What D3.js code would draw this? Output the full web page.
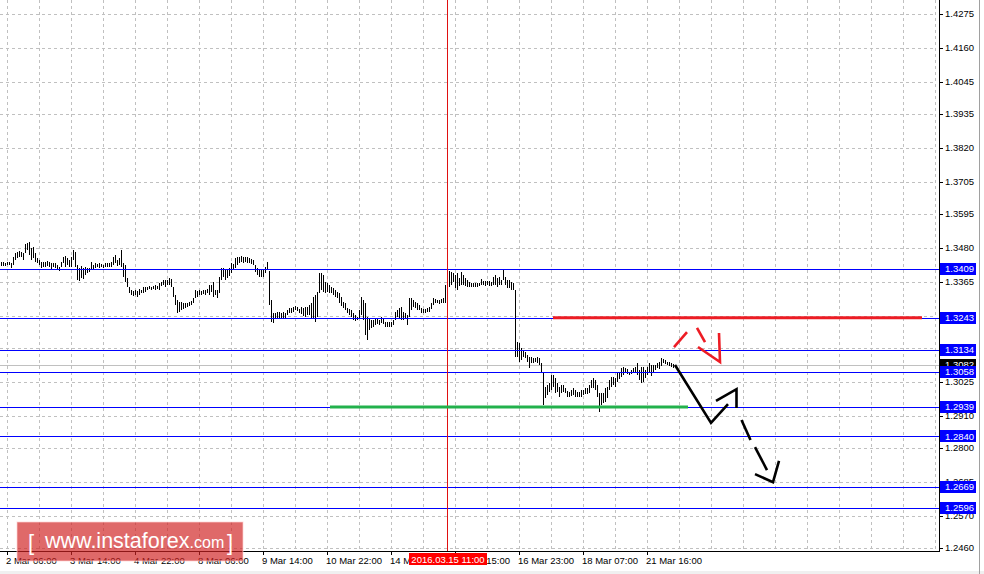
<!DOCTYPE html>
<html><head><meta charset="utf-8">
<script src="https://cdn.jsdelivr.net/npm/d3@7/dist/d3.min.js"></script>
<style>
html,body{margin:0;padding:0;background:#fff;overflow:hidden;}
svg{display:block;}
text{font-family:"Liberation Sans",Arial,sans-serif;}
</style></head><body>
<svg id="c" width="984" height="574"></svg>
<script>
// ---- DATA (H1 bars) ----
const highs = [
1.3431,1.3432,1.3430,1.3433,1.3431,1.3428,1.3450,1.3462,1.3465,1.3470,
1.3467,1.3462,1.3492,1.3496,1.3499,1.3479,1.3484,1.3462,1.3445,1.3439,
1.3433,1.3433,1.3433,1.3436,1.3431,1.3428,1.3428,1.3428,1.3422,1.3416,
1.3433,1.3450,1.3453,1.3445,1.3439,1.3448,1.3473,1.3467,1.3422,1.3411,
1.3419,1.3411,1.3416,1.3411,1.3411,1.3433,1.3422,1.3428,1.3425,1.3428,
1.3425,1.3422,1.3428,1.3428,1.3428,1.3433,1.3450,1.3456,1.3439,1.3445,
1.3473,1.3428,1.3422,1.3377,1.3348,1.3337,1.3335,1.3337,1.3335,1.3339,
1.3337,1.3348,1.3346,1.3348,1.3351,1.3348,1.3351,1.3354,1.3351,1.3360,
1.3365,1.3371,1.3371,1.3371,1.3377,1.3373,1.3348,1.3320,1.3303,1.3297,
1.3297,1.3294,1.3292,1.3294,1.3297,1.3301,1.3309,1.3337,1.3335,1.3337,
1.3335,1.3337,1.3337,1.3339,1.3354,1.3354,1.3365,1.3337,1.3337,1.3382,
1.3411,1.3411,1.3407,1.3407,1.3411,1.3428,1.3424,
1.3445,1.3448,1.3450,1.3453,1.3450,1.3448,1.3448,1.3445,1.3441,1.3439,
1.3422,1.3411,1.3405,1.3405,1.3405,1.3416,1.3433,1.3403,1.3303,1.3258,
1.3260,1.3263,1.3263,1.3260,1.3263,1.3258,1.3269,1.3275,1.3275,1.3280,
1.3283,1.3280,1.3271,1.3278,1.3275,1.3280,1.3280,1.3286,1.3292,1.3314,
1.3320,1.3331,1.3394,1.3396,1.3388,1.3365,1.3360,1.3354,1.3348,1.3343,
1.3337,1.3331,1.3326,1.3314,1.3297,1.3292,1.3275,1.3271,1.3269,1.3258,
1.3252,1.3246,1.3269,1.3314,1.3303,1.3292,1.3246,1.3241,1.3235,1.3235,
1.3241,1.3237,1.3235,1.3244,1.3241,1.3229,1.3229,1.3229,1.3229,1.3235,
1.3263,1.3269,1.3275,1.3280,1.3263,1.3258,1.3252,1.3309,1.3309,1.3303,
1.3297,1.3292,1.3286,1.3275,1.3271,1.3271,1.3275,1.3278,1.3292,1.3309,
1.3305,1.3303,1.3303,1.3305,1.3309,1.3354,1.3388,1.3403,1.3399,1.3394,
1.3388,1.3394,1.3377,1.3399,1.3388,
1.3377,1.3371,1.3365,1.3362,1.3360,1.3360,1.3360,1.3362,1.3373,1.3369,
1.3369,1.3369,1.3369,1.3365,1.3382,1.3388,1.3377,1.3382,1.3371,1.3405,
1.3382,1.3371,1.3371,1.3365,1.3360,1.3337,1.3161,1.3156,1.3139,1.3133,
1.3127,1.3116,1.3110,1.3110,1.3107,1.3107,1.3108,1.3105,1.3088,1.3059,
1.3008,1.3014,1.3020,1.3048,1.3048,1.3037,1.3020,1.3008,1.3014,1.3014,
1.3003,1.2995,1.2991,1.2997,1.3003,1.2997,1.2991,1.2991,1.2997,1.2997,
1.3003,1.3003,1.3014,1.3031,1.3037,1.3031,1.3014,1.2986,1.2986,1.2986,
1.3003,1.3008,1.3031,1.3042,1.3042,1.3037,1.3054,1.3059,1.3071,1.3074,
1.3071,1.3067,1.3059,1.3065,1.3071,1.3074,1.3088,1.3065,1.3076,1.3076,
1.3065,1.3076,1.3088,1.3082,1.3082,1.3082,1.3088,1.3093,1.3105,1.3101,
1.3099,1.3093,1.3093,1.3088,1.3085
];
const lows = [
1.3419,1.3420,1.3419,1.3422,1.3422,1.3411,1.3422,1.3439,1.3445,1.3450,
1.3448,1.3439,1.3462,1.3473,1.3456,1.3439,1.3445,1.3433,1.3428,1.3422,
1.3411,1.3416,1.3416,1.3419,1.3414,1.3407,1.3414,1.3411,1.3408,1.3403,
1.3414,1.3428,1.3416,1.3422,1.3416,1.3416,1.3439,1.3416,1.3371,1.3369,
1.3377,1.3373,1.3388,1.3396,1.3399,1.3405,1.3408,1.3411,1.3414,1.3411,
1.3414,1.3411,1.3414,1.3416,1.3414,1.3416,1.3422,1.3428,1.3419,1.3422,
1.3416,1.3382,1.3365,1.3348,1.3326,1.3320,1.3317,1.3320,1.3314,1.3320,
1.3326,1.3328,1.3331,1.3337,1.3339,1.3337,1.3339,1.3337,1.3339,1.3337,
1.3351,1.3354,1.3348,1.3354,1.3354,1.3346,1.3314,1.3286,1.3260,1.3263,
1.3269,1.3271,1.3275,1.3280,1.3283,1.3286,1.3294,1.3309,1.3314,1.3320,
1.3320,1.3323,1.3320,1.3326,1.3320,1.3331,1.3314,1.3320,1.3309,1.3326,
1.3371,1.3382,1.3371,1.3377,1.3385,1.3394,1.3407,
1.3411,1.3422,1.3428,1.3433,1.3430,1.3433,1.3428,1.3430,1.3425,1.3422,
1.3399,1.3388,1.3382,1.3380,1.3382,1.3394,1.3405,1.3286,1.3229,1.3224,
1.3241,1.3241,1.3241,1.3241,1.3237,1.3241,1.3252,1.3258,1.3260,1.3263,
1.3269,1.3267,1.3260,1.3255,1.3249,1.3246,1.3252,1.3252,1.3237,1.3241,
1.3229,1.3246,1.3326,1.3337,1.3331,1.3326,1.3331,1.3326,1.3326,1.3320,
1.3314,1.3309,1.3292,1.3283,1.3275,1.3269,1.3258,1.3252,1.3246,1.3235,
1.3233,1.3235,1.3241,1.3252,1.3235,1.3184,1.3167,1.3201,1.3207,1.3212,
1.3218,1.3221,1.3218,1.3224,1.3221,1.3212,1.3212,1.3212,1.3212,1.3218,
1.3235,1.3246,1.3241,1.3235,1.3235,1.3237,1.3218,1.3246,1.3269,1.3280,
1.3275,1.3269,1.3269,1.3260,1.3258,1.3260,1.3263,1.3263,1.3271,1.3286,
1.3292,1.3292,1.3289,1.3294,1.3292,1.3292,1.3348,1.3348,1.3354,1.3365,
1.3343,1.3337,1.3351,1.3354,1.3354,
1.3351,1.3348,1.3348,1.3348,1.3346,1.3346,1.3348,1.3351,1.3354,1.3354,
1.3352,1.3353,1.3351,1.3351,1.3354,1.3354,1.3348,1.3354,1.3354,1.3371,
1.3354,1.3343,1.3343,1.3337,1.3337,1.3110,1.3110,1.3093,1.3099,1.3110,
1.3105,1.3093,1.3071,1.3088,1.3088,1.3093,1.3088,1.3082,1.3054,1.2946,
1.2969,1.2980,1.2991,1.2997,1.3008,1.2986,1.2991,1.2974,1.2986,1.2991,
1.2986,1.2974,1.2974,1.2977,1.2980,1.2974,1.2972,1.2974,1.2974,1.2980,
1.2984,1.2984,1.2986,1.3003,1.3003,1.2997,1.2974,1.2923,1.2946,1.2952,
1.2957,1.2969,1.2997,1.3006,1.3014,1.3008,1.3025,1.3033,1.3042,1.3048,
1.3054,1.3051,1.3048,1.3051,1.3054,1.3056,1.3048,1.3031,1.3020,1.3025,
1.3037,1.3048,1.3054,1.3045,1.3056,1.3065,1.3071,1.3067,1.3079,1.3088,
1.3086,1.3082,1.3079,1.3076,1.3071
];
const timeLabels = ["2 Mar 06:00","3 Mar 14:00","4 Mar 22:00","8 Mar 06:00","9 Mar 14:00","10 Mar 22:00","14 Mar 06:00","15 Mar 15:00","16 Mar 23:00","18 Mar 07:00","21 Mar 16:00"];
const timeLabelBars = [3,35,67,99,131,163,195,227,259,291,323];
const gridBars = [3,19,35,51,67,83,99,115,131,147,163,179,195,211,227,243,259,275,291,307,323,339,355,371,387,403,419,435,451,467];
const priceTicks = ["1.4275","1.4160","1.4045","1.3935","1.3820","1.3705","1.3595","1.3480","1.3365","1.3250","1.3140","1.3025","1.2910","1.2800","1.2685","1.2570","1.2460"];
const hiddenTickLabels = ["1.3250","1.3140"]; // covered by level tags in the original
const levels = [1.3409,1.3243,1.3134,1.3058,1.2939,1.2840,1.2669,1.2596];
const currentPrice = 1.3082;
const crosshairBar = 223, crosshairLabel = "2016.03.15 11:00";
// annotation objects (bar index, price)
const resistanceLine = {from:276, to:460.5, price:1.3243};
const supportLine = {from:164.5, to:343.5, price:1.2939};
const blackArrowShaft = [[337,1.3082],[355,1.2885],[363.5,1.2949]];
const blackArrowHead = [[357.5,1.2960],[367.75,1.3000],[367.75,1.2936]];
const blackDash1 = [[370.25,1.2895],[374.75,1.2827]];
const blackDash2 = [[377,1.2803],[383,1.2725]];
const blackHead2 = [[377,1.2711],[386,1.2684],[389,1.2756]];
const redDash1 = [[336.5,1.3143],[343,1.3194]];
const redDash2 = [[348,1.3208],[352,1.3160]];
const redHead = [[348.5,1.3143],[359.5,1.3092],[359,1.3191]];

// ---- SCALES ----
const N = highs.length;
const x = d3.scaleLinear().domain([0, 1]).range([1, 3]);
const y = d3.scaleLinear().domain([1.2460, 1.4275]).range([548, 14]);
const plotR = 939, plotB = 551;
const svg = d3.select("#c");

svg.append("rect").attr("width",984).attr("height",574).attr("fill","#fff");
svg.append("rect").attr("x",0).attr("y",571).attr("width",984).attr("height",3).attr("fill","#f0f0f0");

// grid
const grid = svg.append("g").attr("stroke","#c0c0c0").attr("stroke-dasharray","3,3").attr("shape-rendering","crispEdges");
grid.selectAll("line.h").data(priceTicks).join("line").attr("class","h")
  .attr("x1",0).attr("x2",936).attr("y1",d=>Math.round(y(+d))+0.5).attr("y2",d=>Math.round(y(+d))+0.5);
grid.selectAll("line.v").data(gridBars).join("line").attr("class","v")
  .attr("y1",0).attr("y2",plotB).attr("x1",d=>Math.round(x(d))+0.5).attr("x2",d=>Math.round(x(d))+0.5);

// current price line
svg.append("line").attr("x1",0).attr("x2",plotR).attr("y1",Math.round(y(currentPrice))+0.5).attr("y2",Math.round(y(currentPrice))+0.5)
  .attr("stroke","#c0c0c0").attr("shape-rendering","crispEdges");

// bars
svg.append("g").attr("shape-rendering","crispEdges").selectAll("rect").data(d3.range(N)).join("rect")
  .attr("x",i=>Math.round(x(i))).attr("width",1)
  .attr("y",i=>Math.round(y(highs[i])))
  .attr("height",i=>Math.max(1,Math.round(y(lows[i]))-Math.round(y(highs[i]))))
  .attr("fill","#000");

// level lines
svg.append("g").attr("shape-rendering","crispEdges").selectAll("line").data(levels).join("line")
  .attr("x1",0).attr("x2",plotR).attr("y1",d=>Math.round(y(d))+0.5).attr("y2",d=>Math.round(y(d))+0.5)
  .attr("stroke","#0000ff");

// crosshair
svg.append("line").attr("x1",Math.round(x(crosshairBar))+0.5).attr("x2",Math.round(x(crosshairBar))+0.5)
  .attr("y1",0).attr("y2",plotB).attr("stroke","#e01010").attr("shape-rendering","crispEdges");

// resistance / support
svg.append("line").attr("x1",x(resistanceLine.from)).attr("x2",x(resistanceLine.to))
  .attr("y1",y(resistanceLine.price)).attr("y2",y(resistanceLine.price)).attr("stroke","#ed1c24").attr("stroke-width",3);
svg.append("line").attr("x1",x(supportLine.from)).attr("x2",x(supportLine.to))
  .attr("y1",y(supportLine.price)).attr("y2",y(supportLine.price)).attr("stroke","#22b14c").attr("stroke-width",3);

// arrows
const ln = d3.line().x(d=>x(d[0])).y(d=>y(d[1]));
function path(pts,color){svg.append("path").attr("d",ln(pts)).attr("fill","none").attr("stroke",color).attr("stroke-width",2.6).attr("stroke-linejoin","miter");}
[blackArrowShaft,blackArrowHead,blackDash1,blackDash2,blackHead2].forEach(p=>path(p,"#000"));
[redDash1,redDash2,redHead].forEach(p=>path(p,"#ed1c24"));

// axes lines
svg.append("line").attr("x1",plotR+0.5).attr("x2",plotR+0.5).attr("y1",0).attr("y2",plotB+1).attr("stroke","#000").attr("shape-rendering","crispEdges");
svg.append("line").attr("x1",0).attr("x2",plotR+1).attr("y1",plotB+0.5).attr("y2",plotB+0.5).attr("stroke","#000").attr("shape-rendering","crispEdges");

// right axis
const ra = svg.append("g");
ra.selectAll("line").data(priceTicks).join("line")
  .attr("x1",plotR).attr("x2",plotR+4).attr("y1",d=>Math.round(y(+d))+0.5).attr("y2",d=>Math.round(y(+d))+0.5)
  .attr("stroke","#000").attr("shape-rendering","crispEdges");
ra.selectAll("text").data(priceTicks.filter(d=>!hiddenTickLabels.includes(d))).join("text")
  .attr("x",945).attr("y",d=>y(+d)).attr("dy","0.36em").attr("font-size","9.5px").attr("fill","#000").text(d=>d);

// current price tag
const cp = svg.append("g");
cp.append("rect").attr("x",940).attr("y",Math.round(y(currentPrice))-6).attr("width",36).attr("height",12).attr("fill","#000");
cp.append("text").attr("x",945).attr("y",y(currentPrice)).attr("dy","0.36em").attr("font-size","9.5px").attr("fill","#fff").text(currentPrice.toFixed(4));

// level tags
const lt = svg.append("g").selectAll("g").data(levels).join("g");
lt.append("rect").attr("x",940).attr("y",d=>Math.round(y(d))-6).attr("width",36).attr("height",12).attr("fill","#0000ff");
lt.append("text").attr("x",945).attr("y",d=>y(d)).attr("dy","0.36em").attr("font-size","9.5px").attr("fill","#fff").text(d=>d.toFixed(4));

// bottom axis
const ba = svg.append("g");
ba.selectAll("line").data(timeLabelBars).join("line")
  .attr("x1",d=>Math.round(x(d))+0.5).attr("x2",d=>Math.round(x(d))+0.5).attr("y1",plotB).attr("y2",plotB+4)
  .attr("stroke","#000").attr("shape-rendering","crispEdges");
ba.selectAll("text").data(timeLabelBars).join("text")
  .attr("x",d=>x(d)-1).attr("y",564).attr("font-size","9.5px").attr("fill","#000").text((d,i)=>timeLabels[i]);

// crosshair time tag
const cx = x(crosshairBar);
svg.append("rect").attr("x",cx-38).attr("y",553).attr("width",78).attr("height",12).attr("fill","#ff0000");
svg.append("text").attr("x",cx+1).attr("y",563).attr("text-anchor","middle").attr("font-size","9.5px").attr("fill","#fff").text(crosshairLabel);

// right neighbour strip
svg.append("line").attr("x1",979.5).attr("x2",979.5).attr("y1",0).attr("y2",574).attr("stroke","#a0a0a0");

// watermark
const wm = svg.append("g");
wm.append("rect").attr("x",17).attr("y",522).attr("width",226).attr("height",39)
  .attr("fill","rgba(208,34,34,0.68)").attr("stroke","rgba(255,210,210,0.7)");
wm.append("text").attr("x",28).attr("y",550).attr("font-family","'Open Sans',sans-serif").attr("font-size","22px").attr("fill","#fff").text("[");
const wt = wm.append("text").attr("x",45).attr("y",548).attr("font-family","'Open Sans',sans-serif").attr("fill","#fff");
wt.append("tspan").attr("font-size","21.5px").text("www.instaforex");
wt.append("tspan").attr("font-size","16px").text(".com");
wm.append("text").attr("x",227).attr("y",550).attr("font-family","'Open Sans',sans-serif").attr("font-size","22px").attr("fill","#fff").text("]");
</script>
</body></html>
